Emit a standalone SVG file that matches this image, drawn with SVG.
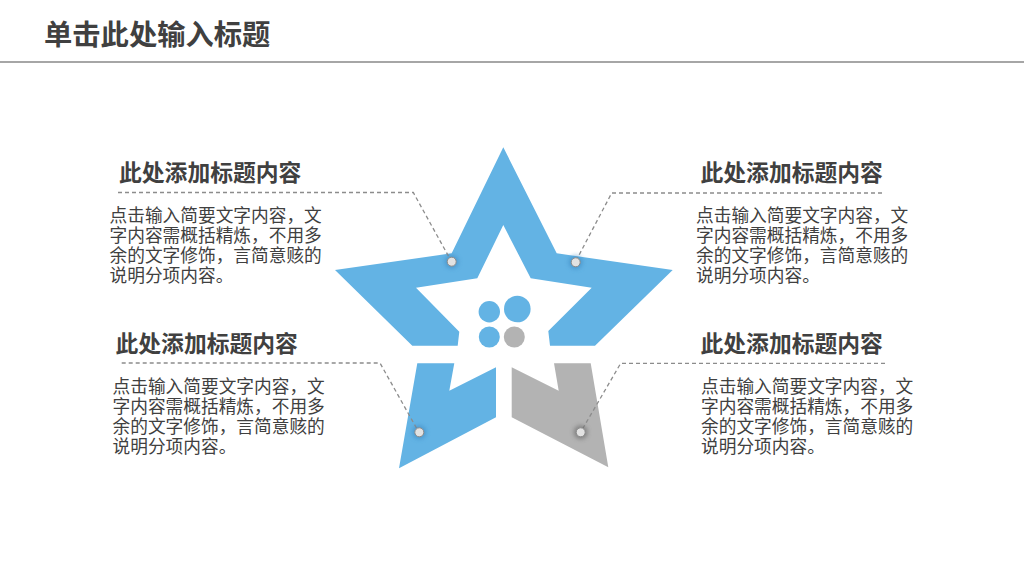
<svg xmlns="http://www.w3.org/2000/svg" width="1024" height="576" viewBox="0 0 1024 576" lang="zh-CN" xml:lang="zh-CN">
  <style>
    .hdr { font-family: "Liberation Sans", "Noto Sans CJK SC", sans-serif; font-weight: 700; font-size: 28.3px; fill: #404040; }
    .ttl { font-family: "Liberation Sans", "Noto Sans CJK SC", sans-serif; font-weight: 700; font-size: 22.8px; fill: #404040; }
    .body { font-family: "Liberation Sans", "Noto Sans CJK SC", sans-serif; font-size: 17.7px; fill: #404040; }
    .blue { fill: #63B3E4; }
    .grey { fill: #B3B3B3; }
    .dash { fill: none; stroke: #8C8C8C; stroke-width: 1.3; stroke-dasharray: 4 3; }
    .dot { fill: #E2E2E2; stroke: #8A8A8A; stroke-width: 1; }
  </style>
  <defs>
    <filter id="glow" x="-100%" y="-100%" width="300%" height="300%">
      <feGaussianBlur stdDeviation="2.2"/>
    </filter>
  </defs>
  <rect width="1024" height="576" fill="#FFFFFF"/>

  <g id="header">
    <text class="hdr" x="44" y="45">单击此处输入标题</text>
    <line x1="0" y1="62" x2="1024" y2="62" stroke="#A6A6A6" stroke-width="2"/>
  </g>

  <g id="star">
    <g id="star-top">
      <polygon class="blue" points="412.3,345.7 335,270 451.7,253.3 503.3,147.3 556.7,253.3 672.7,270 595,345.7 550,345.7 548.3,331 591.7,287.7 530.7,278.3 503.3,225 477.3,278.3 416,287.7 459.3,331.7 457.7,345.7"/>
    </g>
    <g id="star-bottom-left">
      <polygon class="blue" points="417.3,363.3 454.3,363.3 449.3,390.7 496,367.3 496,417.3 399,468.3"/>
    </g>
    <g id="star-bottom-right">
      <polygon class="grey" points="511.7,367.3 558.7,390.7 554,363.3 590.7,363.3 608.3,467.3 511.7,417.3"/>
    </g>
    <g id="center-dots">
      <circle class="blue" cx="489.3" cy="311.7" r="10.7"/>
      <circle class="blue" cx="517.3" cy="309" r="13.3"/>
      <circle class="blue" cx="489.3" cy="337" r="10.5"/>
      <circle class="grey" cx="514.3" cy="337" r="10.5"/>
    </g>
  </g>

  <g id="connectors">
    <polyline class="dash" points="118,192.5 413.3,192.5 449.5,258"/>
    <polyline class="dash" points="882,193 611.7,193 577.5,258"/>
    <polyline class="dash" points="121.7,363 380,363 417,429"/>
    <polyline class="dash" points="885,363.3 620.7,363.3 582.5,429"/>
    <g id="anchor-ul">
      <circle cx="451.7" cy="261.7" r="7" fill="#3A86C0" opacity="0.55" filter="url(#glow)"/>
      <circle class="dot" cx="451.7" cy="261.7" r="4.5"/>
    </g>
    <g id="anchor-ur">
      <circle cx="575.7" cy="262.3" r="7" fill="#3A86C0" opacity="0.55" filter="url(#glow)"/>
      <circle class="dot" cx="575.7" cy="262.3" r="4.5"/>
    </g>
    <g id="anchor-ll">
      <circle cx="419.3" cy="432.3" r="7" fill="#3A86C0" opacity="0.55" filter="url(#glow)"/>
      <circle class="dot" cx="419.3" cy="432.3" r="4.5"/>
    </g>
    <g id="anchor-lr">
      <circle cx="580.7" cy="432.3" r="7" fill="#555555" opacity="0.5" filter="url(#glow)"/>
      <circle class="dot" cx="580.7" cy="432.3" r="4.5"/>
    </g>
  </g>

  <g id="card-upper-left">
    <text class="ttl" x="119" y="181">此处添加标题内容</text>
    <text class="body" x="109.5" y="222">点击输入简要文字内容，文</text>
    <text class="body" x="109.5" y="242">字内容需概括精炼，不用多</text>
    <text class="body" x="109.5" y="262">余的文字修饰，言简意赅的</text>
    <text class="body" x="109.5" y="282">说明分项内容。</text>
  </g>

  <g id="card-upper-right">
    <text class="ttl" x="700.5" y="181">此处添加标题内容</text>
    <text class="body" x="696" y="222">点击输入简要文字内容，文</text>
    <text class="body" x="696" y="242">字内容需概括精炼，不用多</text>
    <text class="body" x="696" y="262">余的文字修饰，言简意赅的</text>
    <text class="body" x="696" y="282">说明分项内容。</text>
  </g>

  <g id="card-lower-left">
    <text class="ttl" x="115.5" y="351.5">此处添加标题内容</text>
    <text class="body" x="112.5" y="393">点击输入简要文字内容，文</text>
    <text class="body" x="112.5" y="413">字内容需概括精炼，不用多</text>
    <text class="body" x="112.5" y="433">余的文字修饰，言简意赅的</text>
    <text class="body" x="112.5" y="453">说明分项内容。</text>
  </g>

  <g id="card-lower-right">
    <text class="ttl" x="700.5" y="351.5">此处添加标题内容</text>
    <text class="body" x="701" y="393">点击输入简要文字内容，文</text>
    <text class="body" x="701" y="413">字内容需概括精炼，不用多</text>
    <text class="body" x="701" y="433">余的文字修饰，言简意赅的</text>
    <text class="body" x="701" y="453">说明分项内容。</text>
  </g>
</svg>
